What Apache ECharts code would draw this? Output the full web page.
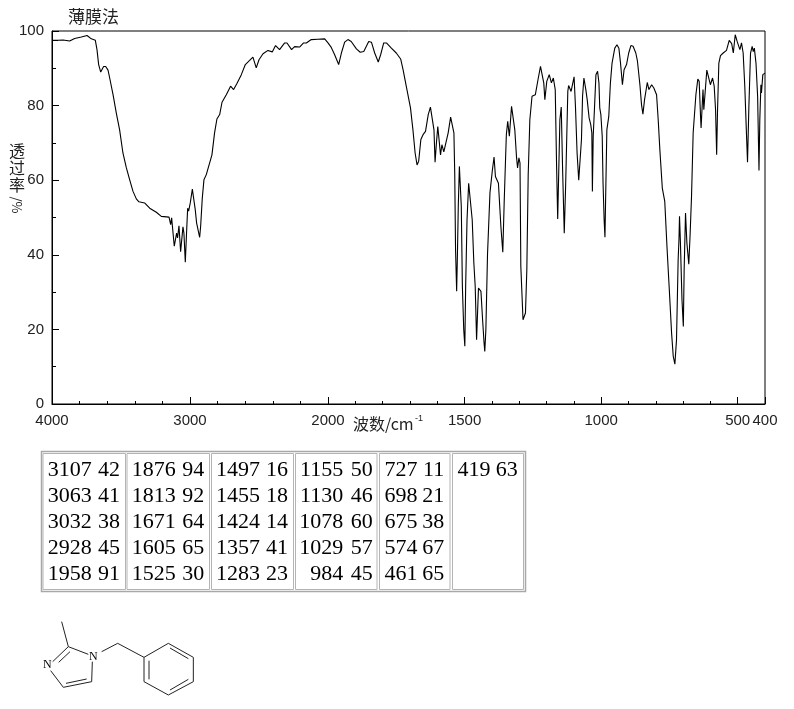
<!DOCTYPE html>
<html>
<head>
<meta charset="utf-8">
<style>html,body{margin:0;padding:0;background:#fff}#c{width:794px;height:709px}</style>
<script src="https://cdn.jsdelivr.net/npm/echarts@6/dist/echarts.min.js"></script>
</head>
<body>
<div id="c"></div>
<script>
// Spectrum, high wavenumber part (4000-2000 cm-1)
const highWave = [4000,3957,3920,3872,3836,3787,3746,3715,3686,3674,3662,3647,3638,3626,3611,3594,3582,3558,3534,3510,3486,3461,3437,3413,3389,3370,3329,3292,3244,3208,3152,3140,3133,3123,3114,3106,3097,3090,3080,3068,3051,3044,3034,3024,3017,3010,2998,2983,2971,2962,2952,2930,2923,2911,2899,2882,2870,2841,2822,2805,2785,2768,2754,2737,2706,2684,2660,2628,2599,2568,2544,2532,2520,2500,2471,2435,2404,2380,2367,2351,2314,2297,2264,2242,2206,2177,2157,2121,2073,2024,2000];
const highTrans = [97.5,97.5,97.6,97.3,98.0,98.4,98.8,97.9,97.5,95.0,91.0,89.0,89.0,90.5,90.5,89.5,87.4,83.0,78.0,73.5,67.3,63.3,60.1,57.0,55.0,54.2,53.9,52.5,51.4,50.3,50.1,48.1,49.9,49.9,42.3,41.8,45.8,44.5,47.8,40.8,47.5,45.8,38.0,46.7,52.5,51.7,53.9,57.6,57.6,52.1,48.5,44.7,47.6,55.2,60.1,61.5,61.9,66.8,72.7,76.4,77.6,80.9,80.5,82.9,85.2,84.3,85.9,88.3,91.0,92.1,93.0,92.5,90.1,92.3,93.9,94.8,94.4,96.1,96.2,95.0,96.8,96.8,95.0,95.8,95.7,96.8,96.8,97.7,97.8,97.9,96.8];
// Spectrum, low wavenumber part (2000-400 cm-1)
const lowWave = [2000,1988,1976,1961,1951,1939,1927,1915,1896,1882,1869,1851,1841,1829,1816,1807,1796,1786,1768,1750,1734,1725,1711,1698,1689,1681,1674,1668,1660,1652,1643,1633,1625,1619,1612,1608,1603,1598,1593,1588,1583,1576,1569,1560,1551,1544,1539,1536,1533,1529,1526,1523,1519,1515,1512,1508,1503,1499,1496,1491,1485,1480,1472,1466,1461,1456,1452,1449,1440,1434,1429,1426,1422,1416,1407,1398,1392,1387,1376,1367,1360,1355,1350,1347,1342,1336,1328,1322,1316,1310,1306,1301,1297,1294,1291,1286,1277,1272,1267,1261,1253,1241,1231,1222,1216,1210,1206,1199,1190,1182,1175,1168,1163,1159,1151,1146,1141,1135,1130,1122,1119,1110,1099,1094,1088,1082,1077,1072,1068,1063,1056,1051,1044,1038,1034,1032,1029,1024,1019,1013,1008,1005,1001,996,993,989,986,984,979,972,966,960,950,942,935,929,922,916,907,899,891,883,873,867,858,852,847,841,831,825,815,807,797,791,785,776,767,759,751,742,736,730,724,718,715,713,710,704,699,696,691,686,679,674,669,663,653,646,641,636,634,627,624,613,607,600,592,586,581,577,574,569,563,553,541,531,522,516,509,502,492,486,480,474,468,464,459,453,447,443,439,433,427,422,419,415,413,408,403,400];
const lowTrans = [96.8,95.6,93.7,91.0,94.1,97.0,97.7,97.2,95.2,94.3,94.5,97.2,97.0,94.1,91.7,93.7,96.8,96.8,95.4,94.1,92.5,89.6,84.3,79.4,73.5,67.3,64.1,65.1,70.9,72.2,73.1,77.6,79.6,79.6,73.5,64.8,70.0,74.4,74.4,66.8,69.5,67.6,67.3,72.7,76.9,77.1,72.7,61.9,41.4,30.2,40.5,53.0,63.7,63.7,53.0,31.5,19.9,15.5,31.5,49.4,59.2,58.8,49.4,37.8,31.5,17.2,25.3,31.1,30.2,22.6,16.8,14.1,19.9,40.0,56.6,62.8,66.2,61.0,59.2,47.6,40.7,53.9,65.5,72.2,75.8,71.8,79.8,79.4,73.5,66.4,63.3,66.0,64.6,36.9,36.5,22.6,24.4,36.0,61.5,76.2,82.5,82.9,87.0,90.5,90.5,86.1,81.6,86.5,88.3,86.1,87.4,84.3,63.7,49.6,76.2,79.6,62.8,45.8,58.4,83.8,85.4,83.8,87.7,79.8,67.3,60.0,60.0,70.9,82.5,87.4,84.3,81.6,76.7,74.9,72.7,57.0,71.8,79.8,88.3,89.2,86.1,79.4,77.6,71.8,59.3,49.4,44.7,53.0,73.5,77.1,86.1,91.4,95.4,96.3,95.4,91.4,85.6,89.6,91.0,94.1,96.1,95.9,94.1,91.9,85.6,80.2,77.7,81.6,86.2,84.3,85.6,84.7,82.9,76.2,68.2,57.9,54.3,42.3,31.5,19.0,12.8,10.7,17.2,38.7,44.1,50.3,44.1,28.0,20.8,36.0,51.2,43.2,37.5,45.8,55.7,72.7,82.9,87.1,86.5,77.1,74.0,84.3,78.9,89.5,89.2,85.6,87.4,85.2,78.9,66.8,78.0,91.4,93.4,94.1,94.8,97.5,96.6,94.1,99.0,97.2,95.0,96.8,94.1,85.2,72.7,64.8,79.8,94.1,95.9,94.5,95.4,91.4,82.5,62.6,76.2,85.6,83.4,88.3,88.7,88.7];
// Tick labels
const lowAxisTicks = [2000,1500,1000,500,400];
const lowAxisLabels = [1500,1000,500,400];
// Peak table, one list per table column
const peakColumns = [
  [["3107","42"],["3063","41"],["3032","38"],["2928","45"],["1958","91"]],
  [["1876","94"],["1813","92"],["1671","64"],["1605","65"],["1525","30"]],
  [["1497","16"],["1455","18"],["1424","14"],["1357","41"],["1283","23"]],
  [["1155","50"],["1130","46"],["1078","60"],["1029","57"],["984","45"]],
  [["727","11"],["698","21"],["675","38"],["574","67"],["461","65"]],
  [["419","63"]]
];
// Text
const methodText = "薄膜法";
const xAxisText = "波数/cm";
const xAxisSup = "-1";
const yAxisText = "透\n过\n率";
const yAxisUnit = "/%";

// Table layout
const cellX0 = [43,127,211.5,295.5,379.5,452.5];
const cellX1 = [125.5,209.5,293.5,377,450,523.5];
const waveEnd = [91.7,175.7,260,343.3,417.5,490.5];
const valEnd = [120,204.3,288,372.7,444.3,517.7];
const centerY = [470.5,496.5,522.5,548.5,574.5];

// Structure drawing (zoomed reference coordinates)
const bonds = [[95,65,115,140],[115,140,175,163],[115,140,68,185],[120,155,86,187],[62,212,100,262],[100,262,185,245],[108,250,170,237],[187,185,185,245],[215,155,263,130],[263,130,342,172],[342,172,415,130],[415,130,490,172],[490,172,490,245],[490,245,415,285],[415,285,342,245],[342,245,342,172],[420,144,475,176],[475,238,420,270],[357,182,357,238]];
const atoms = [["N",190,170],["N",52,196]];
const sx = v => 30 + v / 3, sy = v => 600 + v / 3;

const graphic = [];
graphic.push({type:'rect',shape:{x:41.5,y:451.5,width:484,height:140},style:{fill:'#fff',stroke:'#a8a8a8',lineWidth:1.5}});
cellX0.forEach((x0,i)=>{
  graphic.push({type:'rect',shape:{x:x0,y:453.5,width:cellX1[i]-x0,height:136},style:{fill:'#fff',stroke:'#b4b4b4',lineWidth:1}});
});
peakColumns.forEach((col,i)=>col.forEach((row,j)=>{
  const font='22px "Liberation Serif","Times New Roman",serif';
  graphic.push({type:'text',style:{x:waveEnd[i],y:centerY[j],text:row[0],align:'right',verticalAlign:'middle',font,fill:'#000'}});
  graphic.push({type:'text',style:{x:valEnd[i],y:centerY[j],text:row[1],align:'right',verticalAlign:'middle',font,fill:'#000'}});
}));
bonds.forEach(b=>graphic.push({type:'line',shape:{x1:sx(b[0]),y1:sy(b[1]),x2:sx(b[2]),y2:sy(b[3])},style:{stroke:'#222',lineWidth:1}}));
atoms.forEach(a=>graphic.push({type:'text',style:{x:sx(a[1]),y:sy(a[2]),text:a[0],align:'center',verticalAlign:'middle',font:'12px "Liberation Serif",serif',fill:'#000'}}));
const cjk='"Noto Sans CJK SC","Noto Sans CJK JP",sans-serif';
graphic.push({type:'text',style:{x:353,y:424,text:xAxisText,align:'left',verticalAlign:'middle',font:'16px '+cjk,fill:'#222'}});
graphic.push({type:'text',style:{x:415,y:419,text:xAxisSup,align:'left',verticalAlign:'middle',font:'9px "Liberation Sans",sans-serif',fill:'#222'}});
graphic.push({type:'text',style:{x:17,y:168,text:yAxisText,align:'center',verticalAlign:'middle',font:'16px '+cjk,lineHeight:17,fill:'#222'}});
graphic.push({type:'text',x:17,y:205,rotation:-Math.PI/2,style:{x:0,y:0,text:yAxisUnit,align:'center',verticalAlign:'middle',font:'13px '+cjk,fill:'#222'}});

const labelFont={fontFamily:'"Liberation Sans",sans-serif',fontSize:15,color:'#222'};
const lineC={lineStyle:{color:'#000',width:1}};
const option={
  animation:false,
  backgroundColor:'#fff',
  title:{text:methodText,left:63,top:3,textStyle:{fontFamily:cjk,fontWeight:'normal',fontSize:17,color:'#222'}},
  grid:[
    {left:52,top:31,width:276,height:373,show:false},
    {left:328,top:31,width:437,height:373,show:false},
    {left:52,top:31,width:713,height:373,show:true,borderColor:'#000',borderWidth:1,backgroundColor:'transparent',z:0}
  ],
  xAxis:[
    {gridIndex:0,type:'value',inverse:true,min:2000,max:4000,interval:1000,position:'bottom',splitLine:{show:false},axisLine:{show:true,...lineC},
     axisTick:{show:true,inside:true,length:7,...lineC},minorTick:{show:true,splitNumber:5,length:3,...lineC},
     axisLabel:{show:true,formatter:v=>String(v),margin:9,hideOverlap:false,...labelFont}},
    {gridIndex:1,type:'value',inverse:true,min:400,max:2000,position:'bottom',splitLine:{show:false},axisLine:{show:true,...lineC},
     axisTick:{show:true,inside:true,length:7,customValues:lowAxisTicks,...lineC},
     axisLabel:{show:true,customValues:lowAxisLabels,showMinLabel:true,showMaxLabel:true,formatter:v=>String(v),margin:9,hideOverlap:false,...labelFont}},
    {gridIndex:1,type:'value',inverse:true,min:400,max:2000,interval:100,position:'bottom',splitLine:{show:false},axisLine:{show:false},
     axisTick:{show:true,inside:true,length:3,...lineC},axisLabel:{show:false}},
    {gridIndex:2,type:'value',min:0,max:1,show:false}
  ],
  yAxis:[
    {gridIndex:0,type:'value',min:0,max:100,interval:20,splitLine:{show:false},axisLine:{show:true,...lineC},
     axisTick:{show:true,inside:true,length:7,...lineC},minorTick:{show:true,splitNumber:2,length:4,...lineC},
     axisLabel:{show:true,margin:8,padding:[4,0,0,0],...labelFont}},
    {gridIndex:1,type:'value',min:0,max:100,show:false},
    {gridIndex:2,type:'value',min:0,max:1,show:false}
  ],
  series:[
    {type:'line',name:'透过率',xAxisIndex:0,yAxisIndex:0,data:highWave.map((w,i)=>[w,highTrans[i]]),showSymbol:false,clip:false,lineStyle:{color:'#000',width:1.1}},
    {type:'line',name:'透过率',xAxisIndex:1,yAxisIndex:1,data:lowWave.map((w,i)=>[w,lowTrans[i]]),showSymbol:false,clip:false,lineStyle:{color:'#000',width:1.1}}
  ],
  graphic:graphic
};
const chart=echarts.init(document.getElementById('c'),null,{renderer:'canvas'});
chart.setOption(option);
</script>
</body>
</html>
